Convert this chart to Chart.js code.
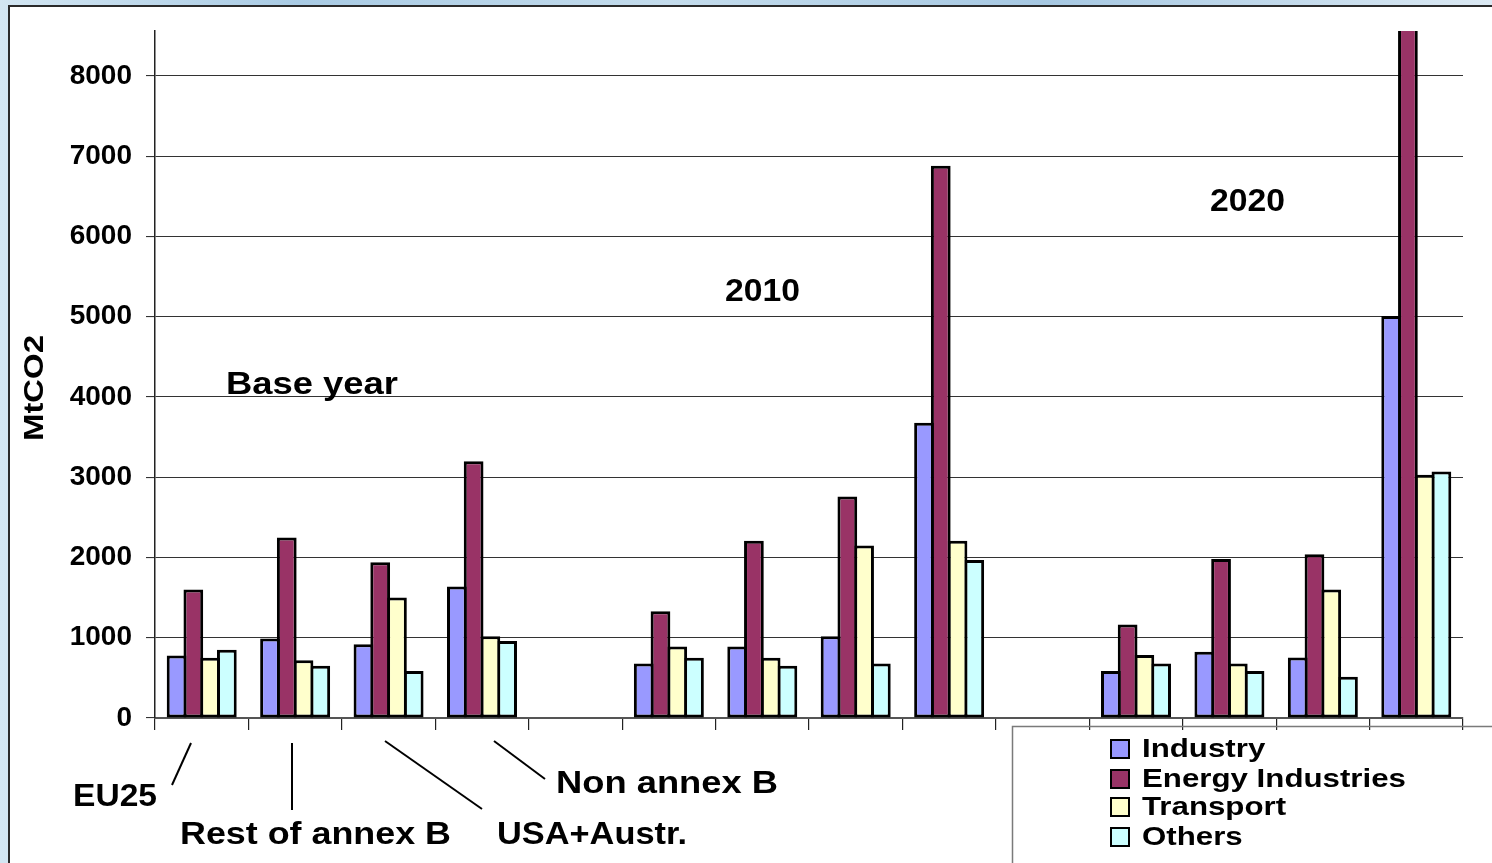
<!DOCTYPE html>
<html>
<head>
<meta charset="utf-8">
<title>CO2 emissions by sector</title>
<script src="https://cdn.jsdelivr.net/npm/chart.js@4/dist/chart.umd.min.js"></script>
<style>
  html, body { margin: 0; padding: 0; }
  body {
    width: 1492px; height: 863px; overflow: hidden; position: relative;
    background: linear-gradient(90deg, #d3e6f2 0%, #a9cbe4 20%, #c4dcec 45%, #a6c8e2 70%, #dbe9f3 100%);
  }
  #panel {
    position: absolute; left: 8px; top: 5px; right: 0; bottom: 0;
    background: #ffffff;
    border-left: 2px solid #2a2a2a;
    border-top: 2px solid #2a2a2a;
  }
  #c { position: absolute; left: 0; top: 0; }
</style>
</head>
<body>
<div id="panel"></div>
<canvas id="c" width="1492" height="863"></canvas>
<script>
// Regions, repeated for the base year, 2010 and 2020 (an empty slot between periods)
const categories = [
  'EU25', 'Rest of annex B', 'USA+Austr.', 'Non annex B', '',
  'EU25', 'Rest of annex B', 'USA+Austr.', 'Non annex B', '',
  'EU25', 'Rest of annex B', 'USA+Austr.', 'Non annex B'
];

// Emissions in MtCO2 per sector
const industry  = [780, 990, 920, 1640, null,  680, 890, 1020, 3680, null,  585, 825, 755, 5010];
const energy    = [1600, 2250, 1940, 3200, null,  1330, 2210, 2760, 6880, null,  1165, 1980, 2040, 8900];
const transport = [750, 720, 1500, 1020, null,  890, 750, 2150, 2210, null,  785, 680, 1600, 3030];
const others    = [850, 650, 585, 960, null,  750, 650, 680, 1970, null,  680, 585, 515, 3070];

const seriesNames = ['Industry', 'Energy Industries', 'Transport', 'Others'];
const seriesColors = ['#9999ff', '#993366', '#ffffcc', '#ccffff'];

const yTicks = [0, 1000, 2000, 3000, 4000, 5000, 6000, 7000, 8000];
const yMax = 8560;

const periodLabels = [
  { text: 'Base year', x: 226, y: 394, w: 172 },
  { text: '2010', x: 725, y: 301, w: 75 },
  { text: '2020', x: 1210, y: 211, w: 75 }
];

const regionLabels = [
  { text: 'EU25', x: 73, y: 806, w: 84, line: [172, 785, 191, 743] },
  { text: 'Rest of annex B', x: 180, y: 844, w: 271, line: [292, 810, 292, 743] },
  { text: 'USA+Austr.', x: 497, y: 844, w: 190, line: [482, 809, 385, 741] },
  { text: 'Non annex B', x: 556, y: 793, w: 222, line: [545, 779, 494, 741] }
];

const FONT = '"Liberation Sans", Arial, Helvetica, sans-serif';

// Draws bold text widened horizontally so that it spans the given width
function wideText(ctx, text, x, y, px, width) {
  ctx.save();
  ctx.font = 'bold ' + px + 'px ' + FONT;
  const natural = ctx.measureText(text).width;
  const sx = width / natural;
  ctx.translate(x, y);
  ctx.scale(sx, 1);
  ctx.textAlign = 'left';
  ctx.fillText(text, 0, 0);
  ctx.restore();
}

// Text callouts, axis title and the boxed legend
const annotations = {
  id: 'annotations',
  afterDraw(chart) {
    const ctx = chart.ctx;
    ctx.save();
    ctx.fillStyle = '#000';
    ctx.strokeStyle = '#000';
    ctx.textBaseline = 'alphabetic';

    // y axis title
    ctx.save();
    ctx.translate(43, 441);
    ctx.rotate(-Math.PI / 2);
    wideText(ctx, 'MtCO2', 0, 0, 28, 106);
    ctx.restore();

    // period headings
    periodLabels.forEach(p => wideText(ctx, p.text, p.x, p.y, 31, p.w));

    // region names with leader lines
    ctx.lineWidth = 2;
    regionLabels.forEach(r => {
      wideText(ctx, r.text, r.x, r.y, 31, r.w);
      ctx.beginPath();
      ctx.moveTo(r.line[0], r.line[1]);
      ctx.lineTo(r.line[2], r.line[3]);
      ctx.stroke();
    });

    // legend box
    ctx.strokeStyle = '#7a7a7a';
    ctx.lineWidth = 1.5;
    ctx.beginPath();
    ctx.moveTo(1012.5, 900);
    ctx.lineTo(1012.5, 726.5);
    ctx.lineTo(1500, 726.5);
    ctx.stroke();

    const baselines = [757, 787, 815, 845];
    chart.data.datasets.forEach((ds, i) => {
      const b = baselines[i];
      ctx.fillStyle = ds.backgroundColor;
      ctx.fillRect(1111, b - 17, 18, 18);
      ctx.strokeStyle = '#000';
      ctx.lineWidth = 2;
      ctx.strokeRect(1111, b - 17, 18, 18);
      ctx.fillStyle = '#000';
      ctx.font = 'bold 25px ' + FONT;
      const w = ctx.measureText(ds.label).width * 1.25;
      wideText(ctx, ds.label, 1142, b, 25, w);
    });

    ctx.restore();
  }
};

const datasets = [industry, energy, transport, others].map((values, i) => ({
  label: seriesNames[i],
  data: values,
  backgroundColor: seriesColors[i],
  borderColor: '#000000',
  borderWidth: 3,
  borderSkipped: false,
  categoryPercentage: 0.717,
  barPercentage: 1.179
}));

new Chart(document.getElementById('c'), {
  type: 'bar',
  data: { labels: categories, datasets },
  plugins: [annotations],
  options: {
    responsive: false,
    animation: false,
    devicePixelRatio: 1,
    layout: { padding: { left: 0, right: 29, top: 31, bottom: 0 } },
    plugins: {
      legend: { display: false },
      tooltip: { enabled: false },
      title: { display: false }
    },
    scales: {
      x: {
        afterFit(scale) { scale.height = 145; },
        grid: {
          offset: true,
          drawOnChartArea: false,
          drawTicks: true,
          tickLength: 12,
          color: '#222222',
          lineWidth: 1.2
        },
        border: { display: true, color: '#555555', width: 2 },
        ticks: { display: false }
      },
      y: {
        min: 0,
        max: yMax,
        afterFit(scale) { scale.width = 155; },
        afterBuildTicks(scale) { scale.ticks = yTicks.map(v => ({ value: v })); },
        grid: { color: '#333333', lineWidth: 1.1, tickLength: 9, drawTicks: true },
        border: { display: true, color: '#222222', width: 1.5 },
        ticks: {
          padding: 14,
          color: '#000000',
          font: { family: FONT, size: 28, weight: 'bold' },
          callback: v => String(v)
        }
      }
    }
  }
});
</script>
</body>
</html>
